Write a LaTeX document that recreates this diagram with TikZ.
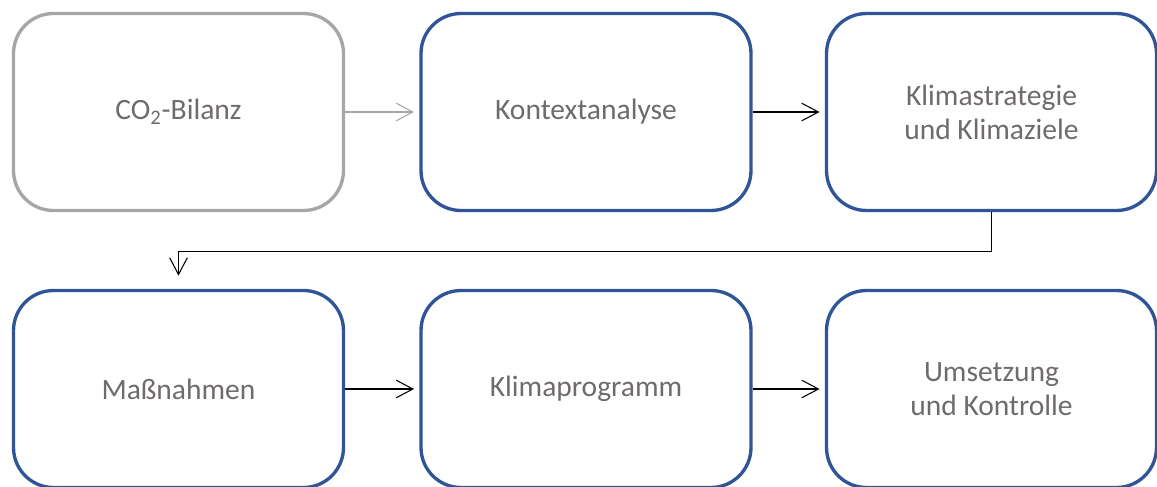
\documentclass[tikz,border=0pt]{standalone}
\usepackage{fontspec}
\setmainfont{Carlito}
\usepackage{tikz}
\usetikzlibrary{arrows.meta}

\definecolor{boxblue}{RGB}{47,85,151}
\definecolor{boxgrey}{RGB}{166,166,166}
\definecolor{txtgrey}{RGB}{112,107,107}

\begin{document}
\begin{tikzpicture}[
  stage/.style={draw=boxblue, line width=1.9pt, rounded corners=0.8cm,
    minimum width=6.6cm, minimum height=3.94cm, align=center,
    text=txtgrey, font=\fontsize{16.8}{19.5}\selectfont},
  flow/.style={-{Straight Barb[length=9.5pt,width=10pt]}, line width=0.6pt, shorten >=3pt}
]
\useasboundingbox (0,0) rectangle (23.14,-9.72);

\node[stage, draw=boxgrey] (1) at (3.57,-2.24)
{CO\textsubscript{2}-Bilanz};

\node[stage] (2) at (11.72,-2.24)
{Kontextanalyse};

\node[stage] (3) at (19.83,-2.24)
{Klimastrategie\\und Klimaziele};

\node[stage] (4) at (3.57,-7.78)
{Maßnahmen};

\node[stage] (5) at (11.72,-7.78)
{Klimaprogramm};

\node[stage] (6) at (19.83,-7.78)
{Umsetzung\\und Kontrolle};

\draw[flow, draw=boxgrey] (1) -- (2);

\draw[flow] (2) -- (3);

\draw[flow] (3.south) -- ++(0,-0.78) -| ([yshift=4.5pt]4.north);

\draw[flow] (4) -- (5);

\draw[flow] (5) -- (6);
\end{tikzpicture}
\end{document}
